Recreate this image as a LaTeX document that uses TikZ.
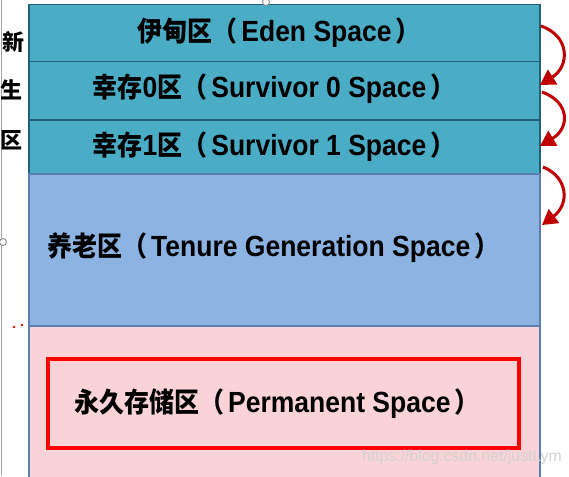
\documentclass[tikz,border=0pt]{standalone}
\usepackage{fontspec}
\setmainfont{Liberation Sans}
\newfontfamily\cjk{Noto Sans CJK SC}
\usetikzlibrary{arrows.meta}
\definecolor{youngfill}{HTML}{4BACC6}
\definecolor{youngline}{HTML}{245F78}
\definecolor{tenurefill}{HTML}{8DB3E2}
\definecolor{tenureline}{HTML}{5B7DB0}
\definecolor{permfill}{HTML}{F9D3D7}
\definecolor{arrowred}{HTML}{C00000}
\newcommand{\zh}[1]{{\cjk\bfseries\fontsize{25}{30}\selectfont #1}}
\newcommand{\lp}{\zh{（}\hspace{4pt}}
\newcommand{\rp}{\hspace{4pt}\zh{）}}
\newcommand{\tall}[1]{\scalebox{1}[1.1]{#1}}
\begin{document}
\begin{tikzpicture}[x=1pt,y=-1pt,
  band/.style={draw=youngline, line width=1.5pt, anchor=north west, inner sep=0pt, minimum width=511pt},
  lbl/.style={font=\fontsize{26.5}{30}\selectfont\bfseries, inner sep=0pt},
  sidelbl/.style={font=\fontsize{22}{26}\selectfont\cjk\bfseries, inner sep=0pt},
  gcarrow/.style={draw=arrowred, line width=3pt, -{Triangle[length=15pt,width=17pt]}},
  handle/.style={circle, draw=gray, fill=white, line width=0.8pt, minimum size=7pt, inner sep=0pt},
]
\path[use as bounding box, clip] (0,0) rectangle (569,476);
\fill[white] (0,0) rectangle (569,476);
% left grey edge
\draw[gray!70, line width=1pt] (1,0) -- (1,476);
% bands
\node[band, fill=youngfill, minimum height=57pt] (eden) at (28,4) {};
\node[band, fill=youngfill, minimum height=58pt] (sz) at (28,61) {};
\node[band, fill=youngfill, minimum height=54pt] (so) at (28,119) {};
\node[band, fill=tenurefill, draw=tenureline, minimum height=152pt] (tenure) at (28,173) {};
\node[band, fill=permfill, draw=tenureline, minimum height=170pt] (perm) at (28,325) {};
% texts
\node[lbl] (tEden) at (279,33) {\tall{\zh{伊甸区}\lp Eden Space\rp}};
\node[lbl] (tSz) at (274,89) {\tall{\zh{幸存}0\zh{区}\lp Survivor 0 Space\rp}};
\node[lbl] (tSo) at (274,147) {\tall{\zh{幸存}1\zh{区}\lp Survivor 1 Space\rp}};
\node[lbl, anchor=west] (tTen) at (47,248) {\tall{\zh{养老区}\lp Tenure Generation Space\rp}};
% permanent box
\node[draw=red, line width=4pt, anchor=north west, minimum width=471pt, minimum height=89pt, inner sep=0pt] (permbox) at (46,357) {};
\node[lbl, anchor=west] (tPerm) at (74,404) {\tall{\zh{永久存储区}\lp Permanent Space\rp}};
% side labels
\node[sidelbl] (xin) at (13,42) {新};
\node[sidelbl] (sheng) at (12,90) {生};
\node[sidelbl] (qu) at (12,140) {区};
% arrows
\coordinate (aos) at (541,26);
\coordinate (aoe) at (540,85);
\coordinate (ats) at (542,92);
\coordinate (ate) at (540,146);
\coordinate (ahs) at (543,167);
\coordinate (ahe) at (542,225);
\draw[gcarrow] (aos) .. controls (570,36) and (570,66) .. (aoe);
\draw[gcarrow] (ats) .. controls (570,102) and (570,128) .. (ate);
\draw[gcarrow] (ahs) .. controls (568,177) and (570,204) .. (ahe);
% handles and marks
\node[handle] (hTop) at (266,2) {};
\node[handle] (hLeft) at (3,242) {};
\fill[red] (14,327) circle (1.3pt);
\fill[red] (22,325) circle (1.3pt);
% watermark
\node[anchor=east, text=gray!35, font=\fontsize{15.8}{18}\selectfont, inner sep=0pt] (wm) at (562,457) {https://blog.csdn.net/justLym};
\end{tikzpicture}
\end{document}
